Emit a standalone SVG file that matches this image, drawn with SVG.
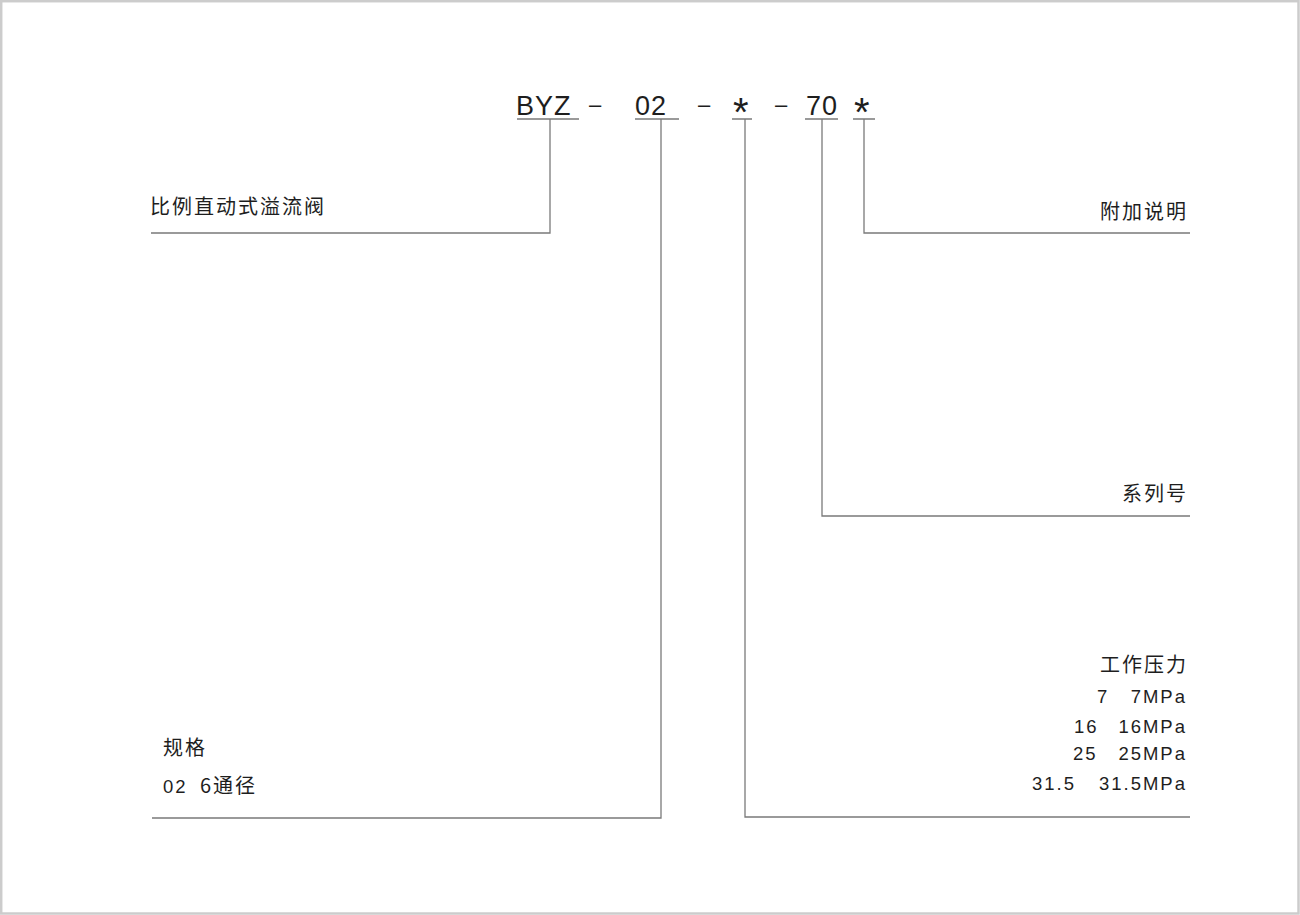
<svg xmlns="http://www.w3.org/2000/svg" width="1300" height="915" viewBox="0 0 1300 915">
<style>
.t{font-family:"Liberation Sans","Noto Sans CJK SC",sans-serif;fill:#1e1e1e}
.h{font-size:27px;letter-spacing:1px}
.d{font-size:22px}
.st{font-size:40px}
.c{font-family:"Noto Sans CJK SC","Liberation Sans",sans-serif;font-size:20px;letter-spacing:2px;fill:#1e1e1e}
.n{font-size:18.5px;letter-spacing:2px}
.l{fill:none;stroke:#7a7a7a;stroke-width:1.3}
</style>
<rect x="1.2" y="1.2" width="1297.3" height="912.3" fill="#fff" stroke="#cccccc" stroke-width="2.5"/>
<g id="code">
<text class="t h" x="516" y="115">BYZ</text>
<text class="t d" x="589" y="112">–</text>
<text class="t h" x="635" y="115">02</text>
<text class="t d" x="698" y="112">–</text>
<text class="t st" x="733" y="126">*</text>
<text class="t d" x="775" y="112">–</text>
<text class="t h" x="806" y="115">70</text>
<text class="t st" x="854" y="126">*</text>
<path class="l" d="M517 119H579M635 119H679M732 119H752M805 119H838M853 119H875"/>
</g>
<g id="connectors">
<path class="l" d="M550 119V233H151"/>
<path class="l" d="M661 119V818H152"/>
<path class="l" d="M745 119V817H1190"/>
<path class="l" d="M822 119V516H1190"/>
<path class="l" d="M864 119V233H1190"/>
</g>
<g id="node-type">
<text class="c" x="150" y="214">比例直动式溢流阀</text>
</g>
<g id="node-extra">
<text class="c" x="1188" y="219" text-anchor="end">附加说明</text>
</g>
<g id="node-series">
<text class="c" x="1188" y="501" text-anchor="end">系列号</text>
</g>
<g id="node-pressure">
<text class="c" x="1188" y="672" text-anchor="end">工作压力</text>
<text class="t n" x="1097" y="703">7</text>
<text class="t n" x="1187" y="703" text-anchor="end">7MPa</text>
<text class="t n" x="1074" y="733">16</text>
<text class="t n" x="1187" y="733" text-anchor="end">16MPa</text>
<text class="t n" x="1073" y="760">25</text>
<text class="t n" x="1187" y="760" text-anchor="end">25MPa</text>
<text class="t n" x="1032" y="790">31.5</text>
<text class="t n" x="1187" y="790" text-anchor="end">31.5MPa</text>
</g>
<g id="node-size">
<text class="c" x="163" y="755">规格</text>
<text class="t n" x="163" y="793" letter-spacing="1">02</text>
<text class="c" x="200" y="793" letter-spacing="1">6通径</text>
</g>
</svg>
